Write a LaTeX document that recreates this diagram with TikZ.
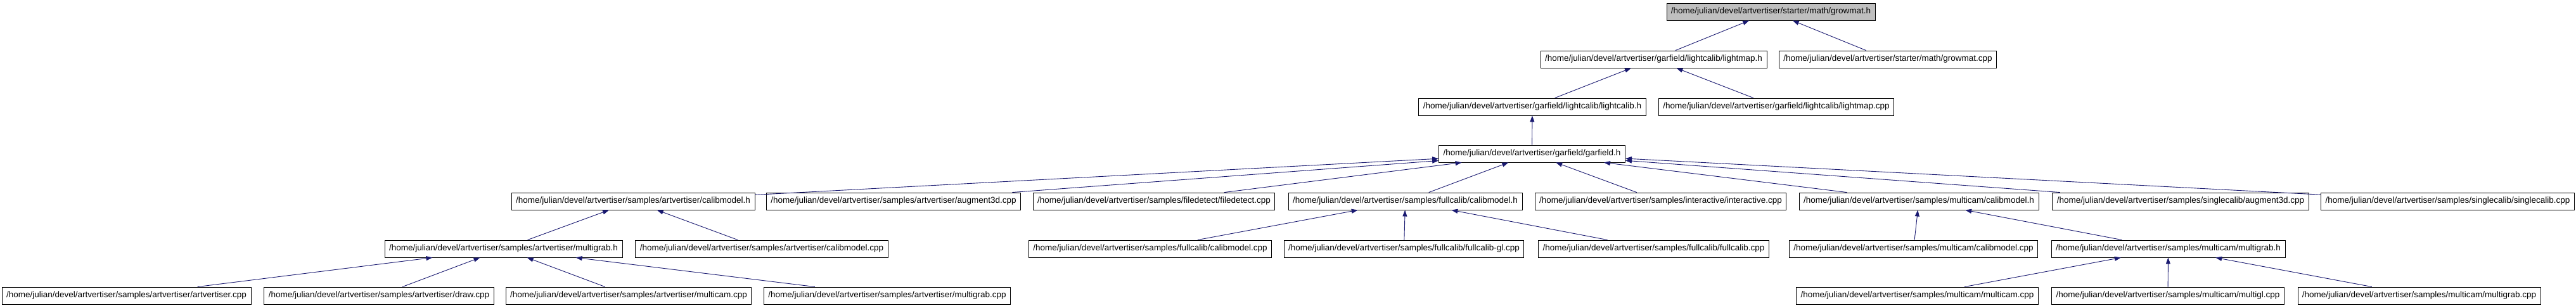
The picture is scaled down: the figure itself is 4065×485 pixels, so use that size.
\documentclass[tikz,border=0pt]{standalone}
\usepackage{fontspec}
\setmainfont{Liberation Sans}
\usepackage{xcolor}
\usepackage{tikz}
\usetikzlibrary{arrows.meta}
\definecolor{azulnoite}{HTML}{191970}
\definecolor{cinza}{HTML}{BFBFBF}

\begin{document}
\begin{tikzpicture}[x=1pt, y=-1pt, >={Triangle[length=10pt,width=7pt]},
  arq/.style={draw=black, fill=white, line width=0.9pt, minimum height=27pt, inner xsep=7pt, inner ysep=0pt, font=\fontsize{13.5}{16}\selectfont},
  raiz/.style={arq, fill=cinza},
  inc/.style={->, azulnoite, line width=0.9pt}]
  \useasboundingbox (0,0) rectangle (4065,485);
  % niveis de cima
  \node[raiz] (growmath) at (2794.5,18.5) {/home/julian/devel/artvertiser/starter/math/growmat.h};
  \node[arq] (lightmaph) at (2609.5,93.5) {/home/julian/devel/artvertiser/garfield/lightcalib/lightmap.h};
  \node[arq] (growmatcpp) at (2979,93.5) {/home/julian/devel/artvertiser/starter/math/growmat.cpp};
  \node[arq] (lightcalibh) at (2418,168.5) {/home/julian/devel/artvertiser/garfield/lightcalib/lightcalib.h};
  \node[arq] (lightmapcpp) at (2803,168.5) {/home/julian/devel/artvertiser/garfield/lightcalib/lightmap.cpp};
  \node[arq] (garfieldh) at (2417.5,242.5) {/home/julian/devel/artvertiser/garfield/garfield.h};
  % samples
  \node[arq] (avcalibh) at (999,317.5) {/home/julian/devel/artvertiser/samples/artvertiser/calibmodel.h};
  \node[arq] (avaugment) at (1410,317.5) {/home/julian/devel/artvertiser/samples/artvertiser/augment3d.cpp};
  \node[arq] (filedetect) at (1821,317.5) {/home/julian/devel/artvertiser/samples/filedetect/filedetect.cpp};
  \node[arq] (fccalibh) at (2217.5,317.5) {/home/julian/devel/artvertiser/samples/fullcalib/calibmodel.h};
  \node[arq] (interactive) at (2620.5,317.5) {/home/julian/devel/artvertiser/samples/interactive/interactive.cpp};
  \node[arq] (mccalibh) at (3028,317.5) {/home/julian/devel/artvertiser/samples/multicam/calibmodel.h};
  \node[arq] (scaugment) at (3441,317.5) {/home/julian/devel/artvertiser/samples/singlecalib/augment3d.cpp};
  \node[arq] (singlecalib) at (3862.5,317.5) {/home/julian/devel/artvertiser/samples/singlecalib/singlecalib.cpp};
  \node[arq] (avmultigrabh) at (794.5,392.5) {/home/julian/devel/artvertiser/samples/artvertiser/multigrab.h};
  \node[arq] (avcalibcpp) at (1202,392.5) {/home/julian/devel/artvertiser/samples/artvertiser/calibmodel.cpp};
  \node[arq] (fccalibcpp) at (1815,392.5) {/home/julian/devel/artvertiser/samples/fullcalib/calibmodel.cpp};
  \node[arq] (fcgl) at (2215.5,392.5) {/home/julian/devel/artvertiser/samples/fullcalib/fullcalib-gl.cpp};
  \node[arq] (fullcalib) at (2609.5,392.5) {/home/julian/devel/artvertiser/samples/fullcalib/fullcalib.cpp};
  \node[arq] (mccalibcpp) at (3019.5,392.5) {/home/julian/devel/artvertiser/samples/multicam/calibmodel.cpp};
  \node[arq] (mcmultigrabh) at (3421.5,392.5) {/home/julian/devel/artvertiser/samples/multicam/multigrab.h};
  \node[arq] (avartvertiser) at (199.5,466.5) {/home/julian/devel/artvertiser/samples/artvertiser/artvertiser.cpp};
  \node[arq] (avdraw) at (598,466.5) {/home/julian/devel/artvertiser/samples/artvertiser/draw.cpp};
  \node[arq] (avmulticam) at (992,466.5) {/home/julian/devel/artvertiser/samples/artvertiser/multicam.cpp};
  \node[arq] (avmultigrab) at (1400,466.5) {/home/julian/devel/artvertiser/samples/artvertiser/multigrab.cpp};
  \node[arq] (mcmulticam) at (3025.5,466.5) {/home/julian/devel/artvertiser/samples/multicam/multicam.cpp};
  \node[arq] (mcmultigl) at (3421,466.5) {/home/julian/devel/artvertiser/samples/multicam/multigl.cpp};
  \node[arq] (mcmultigrab) at (3817.5,466.5) {/home/julian/devel/artvertiser/samples/multicam/multigrab.cpp};
  % quem inclui quem
  \foreach \a/\b in {lightmaph/growmath, growmatcpp/growmath, lightcalibh/lightmaph, lightmapcpp/lightmaph,
      garfieldh/lightcalibh, avcalibh/garfieldh, avaugment/garfieldh, filedetect/garfieldh, fccalibh/garfieldh,
      interactive/garfieldh, mccalibh/garfieldh, scaugment/garfieldh, singlecalib/garfieldh,
      avmultigrabh/avcalibh, avcalibcpp/avcalibh, fccalibcpp/fccalibh, fcgl/fccalibh, fullcalib/fccalibh,
      mccalibcpp/mccalibh, mcmultigrabh/mccalibh, avartvertiser/avmultigrabh, avdraw/avmultigrabh,
      avmulticam/avmultigrabh, avmultigrab/avmultigrabh, mcmulticam/mcmultigrabh, mcmultigl/mcmultigrabh,
      mcmultigrab/mcmultigrabh}
    \draw[inc] (\a) -- (\b);
\end{tikzpicture}
\end{document}
